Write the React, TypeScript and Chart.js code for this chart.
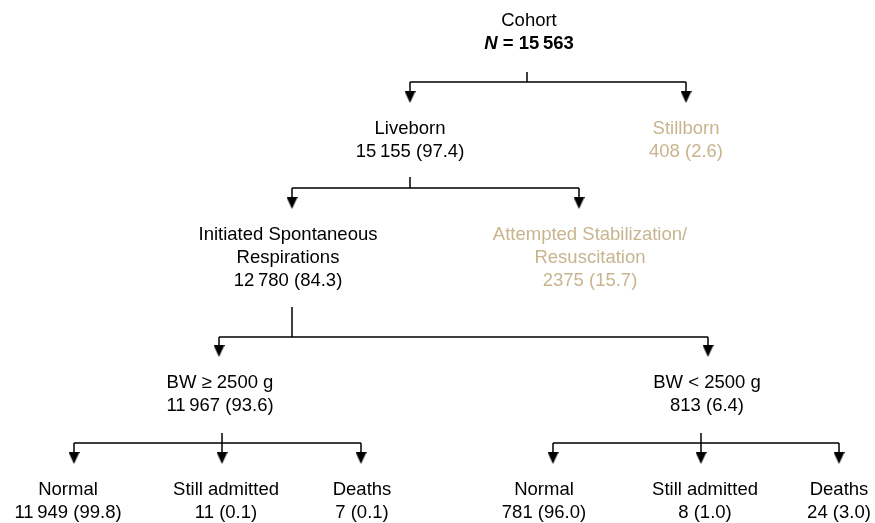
import { useEffect, useRef } from "react";
import { Chart, registerables } from "chart.js";

Chart.register(...registerables);

// ---- data ----
const nodeNames: string[][] = [
  ["Cohort"],
  ["Liveborn"],
  ["Stillborn"],
  ["Initiated Spontaneous", "Respirations"],
  ["Attempted Stabilization/", "Resuscitation"],
  ["BW ≥ 2500 g"],
  ["BW < 2500 g"],
  ["Normal"],
  ["Still admitted"],
  ["Deaths"],
  ["Normal"],
  ["Still admitted"],
  ["Deaths"],
];
const nodeCounts = [15563, 15155, 408, 12780, 2375, 11967, 813, 11949, 11, 7, 781, 8, 24];
const nodePercents: (number | null)[] = [null, 97.4, 2.6, 84.3, 15.7, 93.6, 6.4, 99.8, 0.1, 0.1, 96.0, 1.0, 3.0];
const nodeParents = [-1, 0, 0, 1, 1, 3, 3, 5, 5, 5, 6, 6, 6];
const nodeMuted = [false, false, true, false, true, false, false, false, false, false, false, false, false];

// ---- layout (diagram geometry, separate from data) ----
const nodeX = [527, 410, 686, 292, 579, 219, 708, 74, 222, 361, 553, 701, 839];
const labelX = [529, 410, 686, 288, 590, 220, 707, 68, 226, 362, 544, 705, 839];
const stemX: (number | null)[] = [527, 410, null, 292, null, 222, 701, null, null, null, null, null, null];
const levelTextY = [21, 129, 235, 383, 490];
const levelStemTop = [0, 72, 177, 307, 433];
const levelBarY = [0, 82, 188, 337, 443];
const levelTipY = [0, 103, 209, 357, 464];
const LINE_H = 23;
const ARROW_W = 11;
const ARROW_H = 12;
const FONT_SIZE = 18.5;

const INK = "#000000";
const MUTED = "#c8b48e";
const FONT = '"Liberation Sans", Arial, Helvetica, sans-serif';

function fmtCount(n: number): string {
  const s = String(n);
  if (n >= 10000) return s.slice(0, s.length - 3) + "\u2009" + s.slice(s.length - 3);
  return s;
}

function depth(i: number): number {
  let d = 0;
  let p = nodeParents[i];
  while (p >= 0) {
    d++;
    p = nodeParents[p];
  }
  return d;
}

function makeArrowHead(): HTMLCanvasElement {
  const c = document.createElement("canvas");
  c.width = ARROW_W;
  c.height = ARROW_H;
  const g = c.getContext("2d")!;
  g.fillStyle = INK;
  g.beginPath();
  g.moveTo(0, 0);
  g.lineTo(ARROW_W, 0);
  g.lineTo(ARROW_W / 2, ARROW_H);
  g.closePath();
  g.fill();
  return c;
}

export default function App() {
  const ref = useRef<HTMLCanvasElement | null>(null);

  useEffect(() => {
    document.body.style.margin = "0";
    const canvas = ref.current;
    if (!canvas) return;

    const connectors: { x: number; y: number | null }[] = [];
    const arrows: { x: number; y: number }[] = [];
    const gap = (x: number) => connectors.push({ x, y: null });
    nodeNames.forEach((_, p) => {
      const kids = nodeParents.map((q, i) => (q === p ? i : -1)).filter((i) => i >= 0);
      if (!kids.length) return;
      const L = depth(kids[0]);
      const sx = stemX[p] as number;
      connectors.push({ x: sx, y: levelStemTop[L] }, { x: sx, y: levelBarY[L] });
      gap(sx);
      const xs = kids.map((k) => nodeX[k]);
      connectors.push({ x: Math.min(...xs), y: levelBarY[L] }, { x: Math.max(...xs), y: levelBarY[L] });
      gap(Math.max(...xs));
      kids.forEach((k) => {
        connectors.push({ x: nodeX[k], y: levelBarY[L] }, { x: nodeX[k], y: levelTipY[L] - ARROW_H / 2 });
        gap(nodeX[k]);
        arrows.push({ x: nodeX[k], y: levelTipY[L] - ARROW_H / 2 });
      });
    });

    const labelsPlugin = {
      id: "nodeLabels",
      afterDatasetsDraw(chart: any) {
        const ctx = chart.ctx as CanvasRenderingContext2D;
        const xs = chart.scales.x;
        const ys = chart.scales.y;
        ctx.save();
        ctx.textAlign = "center";
        ctx.textBaseline = "middle";
        nodeNames.forEach((lines, i) => {
          const L = depth(i);
          const cx = xs.getPixelForValue(labelX[i]);
          ctx.fillStyle = nodeMuted[i] ? MUTED : INK;
          ctx.font = `${FONT_SIZE}px ${FONT}`;
          lines.forEach((t, j) => {
            ctx.fillText(t, cx, ys.getPixelForValue(levelTextY[L] + j * LINE_H));
          });
          const yv = ys.getPixelForValue(levelTextY[L] + lines.length * LINE_H);
          const pct = nodePercents[i];
          if (pct === null) {
            const a = "N";
            const b = " = " + fmtCount(nodeCounts[i]);
            ctx.font = `italic bold ${FONT_SIZE}px ${FONT}`;
            const wa = ctx.measureText(a).width;
            ctx.font = `bold ${FONT_SIZE}px ${FONT}`;
            const wb = ctx.measureText(b).width;
            const x0 = cx - (wa + wb) / 2;
            ctx.textAlign = "left";
            ctx.font = `italic bold ${FONT_SIZE}px ${FONT}`;
            ctx.fillText(a, x0, yv);
            ctx.font = `bold ${FONT_SIZE}px ${FONT}`;
            ctx.fillText(b, x0 + wa, yv);
            ctx.textAlign = "center";
          } else {
            ctx.font = `${FONT_SIZE}px ${FONT}`;
            ctx.fillText(`${fmtCount(nodeCounts[i])} (${pct.toFixed(1)})`, cx, yv);
          }
        });
        ctx.restore();
      },
    };

    const chart = new Chart(canvas, {
      type: "scatter",
      data: {
        datasets: [
          {
            type: "line",
            data: connectors as any,
            borderColor: INK,
            borderWidth: 1.5,
            pointRadius: 0,
            spanGaps: false,
            fill: false,
            tension: 0,
            clip: false,
          } as any,
          {
            type: "scatter",
            data: arrows,
            pointStyle: makeArrowHead(),
            pointRadius: ARROW_H / 2,
            clip: false,
          } as any,
        ],
      },
      options: {
        animation: false,
        responsive: true,
        maintainAspectRatio: false,
        layout: { padding: 0, autoPadding: false },
        plugins: { legend: { display: false }, tooltip: { enabled: false } },
        events: [],
        scales: {
          x: { type: "linear", min: 0, max: 875, display: false },
          y: { type: "linear", min: 0, max: 523, reverse: true, display: false },
        },
      },
      plugins: [labelsPlugin],
    });
    return () => chart.destroy();
  }, []);

  return (
    <div style={{ width: 875, height: 523, position: "relative", background: "#fff" }}>
      <canvas ref={ref} />
    </div>
  );
}
